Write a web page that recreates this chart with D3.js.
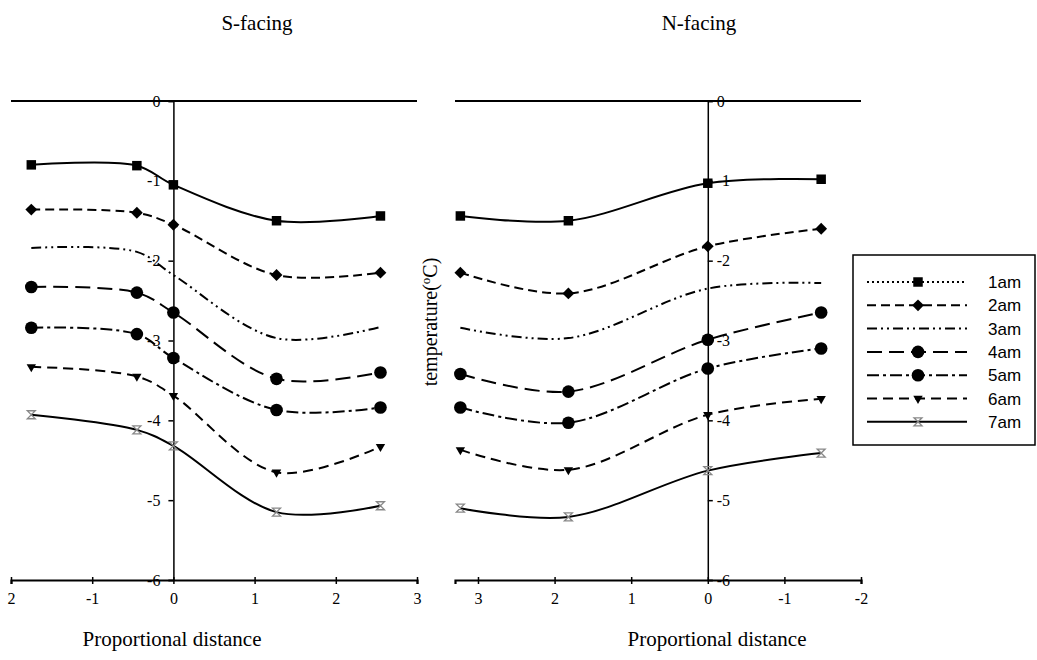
<!DOCTYPE html>
<html>
<head>
<meta charset="utf-8">
<script src="https://cdn.jsdelivr.net/npm/d3@7"></script>
<style>
  body { margin: 0; background: #fff; }
  svg { display: block; }
</style>
</head>
<body>
<svg id="chart" width="1037" height="660"></svg>
<script>
const SERIF = '"Liberation Serif", "Times New Roman", serif';
const SANS = '"Liberation Sans", Arial, sans-serif';

// series names
const hours = ["1am", "2am", "3am", "4am", "5am", "6am", "7am"];

// S-facing: proportional distance and temperature per hour
const sDist = [-1.75, -0.45, 0, 1.27, 2.55];
const sTemp = [
  [-0.80, -0.81, -1.05, -1.50, -1.44],
  [-1.36, -1.40, -1.55, -2.18, -2.15],
  [-1.84, -1.89, -2.18, -2.97, -2.83],
  [-2.33, -2.40, -2.65, -3.48, -3.40],
  [-2.84, -2.92, -3.22, -3.87, -3.84],
  [-3.33, -3.45, -3.69, -4.65, -4.33],
  [-3.93, -4.12, -4.32, -5.15, -5.07]
];

// N-facing
const nDist = [3.23, 1.82, 0, -1.48];
const nTemp = [
  [-1.44, -1.50, -1.03, -0.98],
  [-2.15, -2.41, -1.82, -1.60],
  [-2.84, -2.97, -2.35, -2.28],
  [-3.42, -3.64, -2.99, -2.65],
  [-3.84, -4.03, -3.35, -3.10],
  [-4.37, -4.62, -3.93, -3.73],
  [-5.10, -5.21, -4.63, -4.41]
];

const sTicks = [-2, -1, 0, 1, 2, 3];
const sTickLabels = ["2", "-1", "0", "1", "2", "3"];
const nTicks = [3, 2, 1, 0, -1, -2];
const nTickLabels = ["3", "2", "1", "0", "-1", "-2"];
const yTicks = [0, -1, -2, -3, -4, -5, -6];

// line style per hour (plot / legend), marker type
const plotDash = ["none", "9,5", "10,4,2,4,2,4", "15,7", "12,4,3,4", "10,6", "none"];
const legendDash = ["2,3", "9,5", "10,4,2,4,2,4", "15,7", "12,4,3,4", "10,6", "none"];
const markers = ["square", "diamond", null, "circle", "circle", "triangle", "hourglass"];

const svg = d3.select("#chart");

const y = d3.scaleLinear().domain([0, -6]).range([101, 580]);
const xS = d3.scaleLinear().domain([-2, 3]).range([11, 417]);
const xN = d3.scaleLinear().domain([3.3, -2]).range([455, 861]);

function drawMarker(g, type, cx, cy) {
  if (!type) return;
  if (type === "hourglass") {
    g.append("path")
      .attr("transform", `translate(${cx},${cy})`)
      .attr("d", "M-4,-4L4,-4L-4,4L4,4Z")
      .attr("fill", "none")
      .attr("stroke", "#888")
      .attr("stroke-width", 1.3);
    return;
  }
  const sym = {
    square: [d3.symbolSquare, 90, 0],
    diamond: [d3.symbolSquare, 70, 45],
    circle: [d3.symbolCircle, 125, 0],
    triangle: [d3.symbolTriangle, 38, 180]
  }[type];
  g.append("path")
    .attr("transform", `translate(${cx},${cy}) rotate(${sym[2]})`)
    .attr("d", d3.symbol(sym[0], sym[1])())
    .attr("fill", "#000");
}

function panel(x, dist, temps, ticks, tickLabels, yAxisFn, pad, titleX) {
  const g = svg.append("g");

  // top line at 0 and bottom axis at -6
  g.append("line")
    .attr("x1", x.range()[0]).attr("x2", x.range()[1])
    .attr("y1", y(0)).attr("y2", y(0))
    .attr("stroke", "#000").attr("stroke-width", 2.2);

  const xAxis = g.append("g")
    .attr("transform", `translate(0,${y(-6)})`)
    .call(d3.axisBottom(x).tickValues(ticks)
      .tickFormat((d, i) => tickLabels[i])
      .tickSizeOuter(0).tickSize(4).tickPadding(9));
  xAxis.select(".domain").attr("stroke-width", 2.2);
  xAxis.selectAll(".tick line").attr("y1", -3).attr("y2", 4).attr("stroke-width", 1.5);
  xAxis.selectAll("text").style("font-family", SERIF).style("font-size", "16px").attr("fill", "#000");

  const yAxis = g.append("g")
    .attr("transform", `translate(${x(0)},0)`)
    .call(yAxisFn(y).tickValues(yTicks).tickFormat(d => String(d))
      .tickSizeOuter(0).tickSize(5).tickPadding(pad));
  yAxis.select(".domain").attr("stroke-width", 1.5);
  yAxis.selectAll("text").style("font-family", SERIF).style("font-size", "16px").attr("fill", "#000");
  yAxis.selectAll(".tick line").attr("stroke-width", 1.5);

  const line = d3.line()
    .x((d, i) => x(dist[i]))
    .y(d => y(d))
    .curve(d3.curveCatmullRom.alpha(0.5));

  temps.forEach((row, k) => {
    g.append("path")
      .attr("d", line(row))
      .attr("fill", "none")
      .attr("stroke", "#000")
      .attr("stroke-width", 2)
      .attr("stroke-dasharray", plotDash[k]);
    row.forEach((v, i) => drawMarker(g, markers[k], x(dist[i]), y(v)));
  });

  g.append("text")
    .attr("x", titleX)
    .attr("y", 646)
    .attr("text-anchor", "middle")
    .style("font-family", SERIF)
    .style("font-size", "21px")
    .text("Proportional distance");
}

panel(xS, sDist, sTemp, sTicks, sTickLabels, d3.axisLeft, 8, 172);
panel(xN, nDist, nTemp, nTicks, nTickLabels, d3.axisRight, 4, 717);

// titles
svg.append("text").attr("x", 257).attr("y", 30)
  .attr("text-anchor", "middle").style("font-family", SERIF).style("font-size", "21px").text("S-facing");
svg.append("text").attr("x", 699).attr("y", 30)
  .attr("text-anchor", "middle").style("font-family", SERIF).style("font-size", "21px").text("N-facing");

// y axis title
const yt = svg.append("text")
  .attr("transform", "translate(437,322) rotate(-90)")
  .attr("text-anchor", "middle")
  .style("font-family", SERIF)
  .style("font-size", "20px");
yt.append("tspan").text("temperature(");
yt.append("tspan").attr("dy", -7).style("font-size", "13px").text("o");
yt.append("tspan").attr("dy", 7).text("C)");

// legend
const lg = svg.append("g");
lg.append("rect")
  .attr("x", 853).attr("y", 255).attr("width", 182).attr("height", 190)
  .attr("fill", "#fff").attr("stroke", "#000").attr("stroke-width", 1.5);
hours.forEach((h, k) => {
  const ly = 282 + k * 23.3;
  lg.append("line")
    .attr("x1", 867).attr("x2", 967).attr("y1", ly).attr("y2", ly)
    .attr("stroke", "#000").attr("stroke-width", 2)
    .attr("stroke-dasharray", legendDash[k]);
  drawMarker(lg, markers[k], 918, ly);
  lg.append("text")
    .attr("x", 988).attr("y", ly + 6)
    .style("font-family", SANS)
    .style("font-size", "17px")
    .text(h);
});
</script>
</body>
</html>
